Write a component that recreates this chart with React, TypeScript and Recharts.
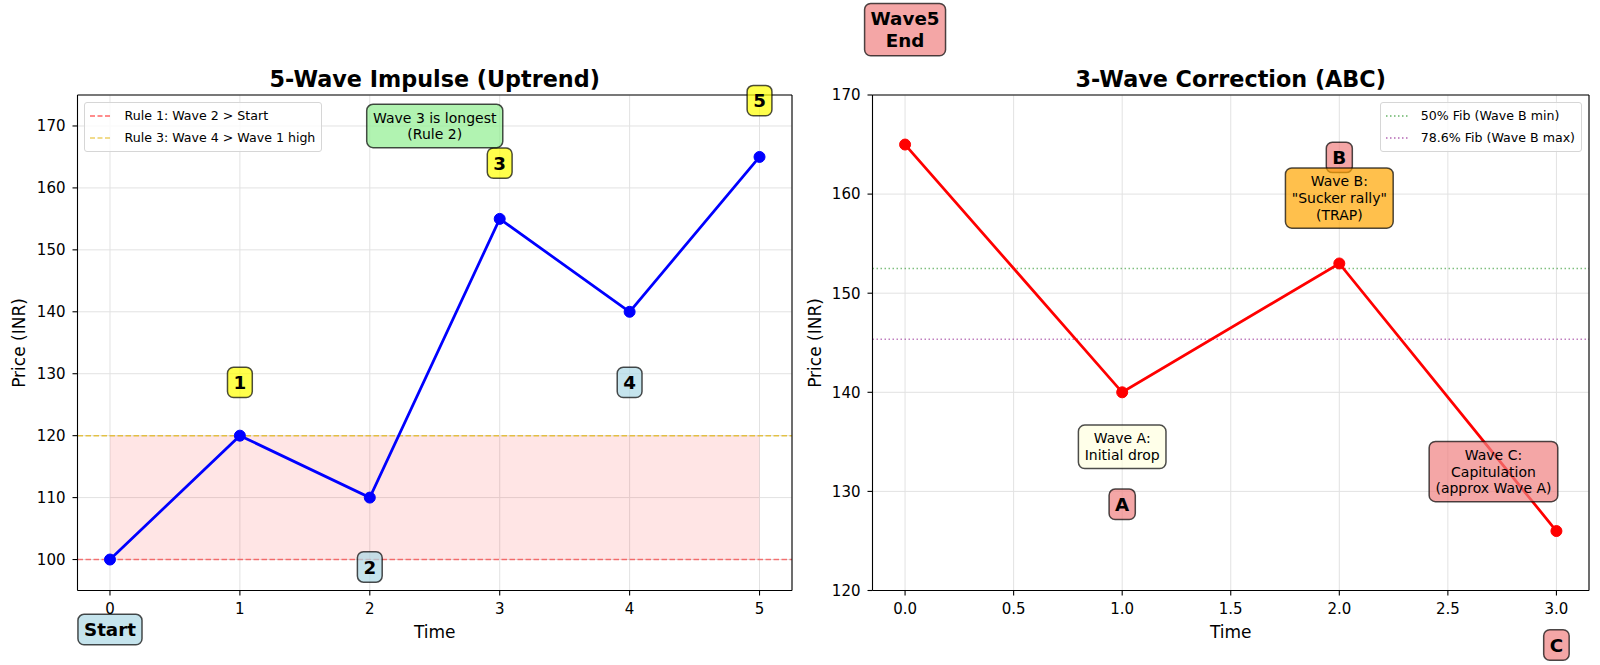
import {
  CartesianGrid,
  Line,
  LineChart,
  ReferenceArea,
  ReferenceDot,
  ReferenceLine,
  XAxis,
  YAxis,
} from "recharts";

const FONT = "'DejaVu Sans', sans-serif";

// price path of the impulse and of the correction
const impulseTime = [0, 1, 2, 3, 4, 5];
const impulsePrice = [100, 120, 110, 155, 140, 165];
const correctionTime = [0, 1, 2, 3];
const correctionPrice = [165, 140, 153, 126];

// axis ticks
const impulseXTicks = [0, 1, 2, 3, 4, 5];
const impulseYTicks = [100, 110, 120, 130, 140, 150, 160, 170];
const correctionXTicks = [0, 0.5, 1, 1.5, 2, 2.5, 3];
const correctionYTicks = [120, 130, 140, 150, 160, 170];

// rule / fib levels
const startLevel = 100;
const wave1High = 120;
const fib50 = 152.5;
const fib786 = 145.35;

const impulseLegend = ["Rule 1: Wave 2 > Start", "Rule 3: Wave 4 > Wave 1 high"];
const correctionLegend = ["50% Fib (Wave B min)", "78.6% Fib (Wave B max)"];

// wave labels (data coords of the box centre)
const impulseTags = [
  { text: "Start", x: 0, y: 88.7, tone: "blue" },
  { text: "1", x: 1, y: 128.6, tone: "yellow" },
  { text: "2", x: 2, y: 98.8, tone: "blue" },
  { text: "3", x: 3, y: 164, tone: "yellow" },
  { text: "4", x: 4, y: 128.6, tone: "blue" },
  { text: "5", x: 5, y: 174.1, tone: "yellow" },
];
const impulseNotes = [{ text: "Wave 3 is longest\n(Rule 2)", x: 2.5, y: 170, tone: "green" }];

const correctionTags = [
  { text: "Wave5\nEnd", x: 0, y: 176.6, tone: "coral" },
  { text: "A", x: 1, y: 128.7, tone: "coral" },
  { text: "B", x: 2, y: 163.7, tone: "coral" },
  { text: "C", x: 3, y: 114.5, tone: "coral" },
];
const correctionNotes = [
  { text: "Wave A:\nInitial drop", x: 1, y: 134.5, tone: "cream" },
  { text: 'Wave B:\n"Sucker rally"\n(TRAP)', x: 2, y: 159.6, tone: "orange" },
  { text: "Wave C:\nCapitulation\n(approx Wave A)", x: 2.71, y: 132, tone: "coral" },
];

const tones: Record<string, string> = {
  yellow: "#ffff00",
  blue: "#add8e6",
  coral: "#f08080",
  green: "#90ee90",
  cream: "#ffffe0",
  orange: "#ffa500",
};

let ctx: CanvasRenderingContext2D | null = null;
function textWidth(text: string, font: string) {
  if (!ctx) ctx = document.createElement("canvas").getContext("2d");
  if (!ctx) return text.length * 8;
  ctx.font = font;
  return ctx.measureText(text).width;
}

function Badge({ cx, cy, text, tone, bold }: any) {
  if (cx == null || cy == null) return null;
  const fs = bold ? 18.3 : 14;
  const pad = (bold ? 0.33 : 0.45) * fs;
  const lines = text.split("\n");
  const font = `${bold ? "bold " : ""}${fs}px 'DejaVu Sans'`;
  const w = Math.max(...lines.map((l: string) => textWidth(l, font))) + 2 * pad;
  const lh = fs * 1.2;
  const h = fs + lh * (lines.length - 1) + 2 * pad;
  const top = cy - ((lines.length - 1) * lh) / 2;
  return (
    <g>
      <rect
        x={cx - w / 2}
        y={cy - h / 2}
        width={w}
        height={h}
        rx={pad}
        fill={tones[tone]}
        fillOpacity={0.7}
        stroke="#000"
        strokeOpacity={0.7}
        strokeWidth={1.5}
      />
      <text
        textAnchor="middle"
        fontFamily={FONT}
        fontSize={fs}
        fontWeight={bold ? "bold" : "normal"}
        fill="#000"
      >
        {lines.map((l: string, i: number) => (
          <tspan key={i} x={cx} y={top + i * lh + 0.36 * fs}>
            {l}
          </tspan>
        ))}
      </text>
    </g>
  );
}

function LegendBox({ labels, strokes, dash, style }: any) {
  return (
    <div
      style={{
        position: "absolute",
        ...style,
        background: "rgba(255,255,255,0.8)",
        border: "1px solid #d6d6d6",
        borderRadius: 3,
        padding: "2px 6px 2px 5px",
        fontFamily: FONT,
        fontSize: 12.6,
        color: "#000",
        whiteSpace: "nowrap",
      }}
    >
      {labels.map((label: string, i: number) => (
        <div key={label} style={{ display: "flex", alignItems: "center", height: 22 }}>
          <svg width={22} height={6} style={{ marginRight: 13 }}>
            <line
              x1={0}
              y1={3}
              x2={22}
              y2={3}
              stroke={strokes[i]}
              strokeOpacity={0.6}
              strokeWidth={1.5}
              strokeDasharray={dash}
            />
          </svg>
          <span>{label}</span>
        </div>
      ))}
    </div>
  );
}

const tick = { fontSize: 15, fill: "#000", fontFamily: FONT };
const axisLine = { stroke: "#000", strokeWidth: 1.1 };
const ruleRed = "#ff0000";
const ruleGold = "#e0b000";

function ImpulseChart() {
  const data = impulseTime.map((t, i) => ({ t, price: impulsePrice[i] }));
  return (
    <LineChart
      width={800}
      height={665}
      data={data}
      margin={{ top: 95, right: 8, bottom: 44.5, left: 17.5 }}
    >
      <CartesianGrid stroke="#e2e2e2" strokeWidth={1} />
      <XAxis
        dataKey="t"
        type="number"
        domain={[-0.25, 5.25]}
        ticks={impulseXTicks}
        allowDataOverflow
        height={30}
        tick={tick}
        tickSize={5}
        tickMargin={8}
        axisLine={axisLine}
        tickLine={axisLine}
      />
      <YAxis
        type="number"
        domain={[95, 175]}
        ticks={impulseYTicks}
        allowDataOverflow
        width={60}
        tick={tick}
        tickSize={5}
        tickMargin={7}
        axisLine={axisLine}
        tickLine={axisLine}
      />
      <ReferenceArea x1={0} x2={5} y1={startLevel} y2={wave1High} fill="#ff0000" fillOpacity={0.1} stroke="none" />
      <ReferenceLine y={startLevel} stroke={ruleRed} strokeOpacity={0.5} strokeWidth={1.5} strokeDasharray="5.5 2.5" />
      <ReferenceLine y={wave1High} stroke={ruleGold} strokeOpacity={0.7} strokeWidth={1.5} strokeDasharray="5.5 2.5" />
      <ReferenceLine y={175} stroke="#000" strokeWidth={1.1} />
      <ReferenceLine x={5.25} stroke="#000" strokeWidth={1.1} />
      <Line
        type="linear"
        dataKey="price"
        stroke="#0000ff"
        strokeWidth={2.75}
        dot={{ r: 5.5, fill: "#0000ff", stroke: "#0000ff", strokeWidth: 1 }}
        activeDot={false}
        isAnimationActive={false}
      />
      {impulseTags.map((tag) => (
        <ReferenceDot
          key={tag.text}
          x={tag.x}
          y={tag.y}
          r={0}
          ifOverflow="visible"
          shape={(p: any) => <Badge cx={p.cx} cy={p.cy} text={tag.text} tone={tag.tone} bold />}
        />
      ))}
      {impulseNotes.map((note) => (
        <ReferenceDot
          key={note.text}
          x={note.x}
          y={note.y}
          r={0}
          ifOverflow="visible"
          shape={(p: any) => <Badge cx={p.cx} cy={p.cy} text={note.text} tone={note.tone} />}
        />
      ))}
    </LineChart>
  );
}

function CorrectionChart() {
  const data = correctionTime.map((t, i) => ({ t, price: correctionPrice[i] }));
  return (
    <LineChart
      width={800}
      height={665}
      data={data}
      margin={{ top: 95, right: 11, bottom: 44.5, left: 12.5 }}
    >
      <CartesianGrid stroke="#e2e2e2" strokeWidth={1} />
      <XAxis
        dataKey="t"
        type="number"
        domain={[-0.15, 3.15]}
        ticks={correctionXTicks}
        tickFormatter={(v: number) => v.toFixed(1)}
        allowDataOverflow
        height={30}
        tick={tick}
        tickSize={5}
        tickMargin={8}
        axisLine={axisLine}
        tickLine={axisLine}
      />
      <YAxis
        type="number"
        domain={[120, 170]}
        ticks={correctionYTicks}
        allowDataOverflow
        width={60}
        tick={tick}
        tickSize={5}
        tickMargin={7}
        axisLine={axisLine}
        tickLine={axisLine}
      />
      <ReferenceLine y={fib50} stroke="#008000" strokeOpacity={0.5} strokeWidth={1.5} strokeDasharray="1.5 2.5" />
      <ReferenceLine y={fib786} stroke="#800080" strokeOpacity={0.5} strokeWidth={1.5} strokeDasharray="1.5 2.5" />
      <ReferenceLine y={170} stroke="#000" strokeWidth={1.1} />
      <ReferenceLine x={3.15} stroke="#000" strokeWidth={1.1} />
      <Line
        type="linear"
        dataKey="price"
        stroke="#ff0000"
        strokeWidth={2.75}
        dot={{ r: 5.5, fill: "#ff0000", stroke: "#ff0000", strokeWidth: 1 }}
        activeDot={false}
        isAnimationActive={false}
      />
      {correctionTags.map((tag) => (
        <ReferenceDot
          key={tag.text}
          x={tag.x}
          y={tag.y}
          r={0}
          ifOverflow="visible"
          shape={(p: any) => <Badge cx={p.cx} cy={p.cy} text={tag.text} tone={tag.tone} bold />}
        />
      ))}
      {correctionNotes.map((note) => (
        <ReferenceDot
          key={note.text}
          x={note.x}
          y={note.y}
          r={0}
          ifOverflow="visible"
          shape={(p: any) => <Badge cx={p.cx} cy={p.cy} text={note.text} tone={note.tone} />}
        />
      ))}
    </LineChart>
  );
}

export default function App() {
  return (
    <div
      style={{
        position: "absolute",
        left: 0,
        top: 0,
        width: 1600,
        height: 665,
        background: "#fff",
        overflow: "hidden",
      }}
    >
      <div style={{ position: "absolute", left: 0, top: 0 }}>
        <ImpulseChart />
      </div>
      <div style={{ position: "absolute", left: 800, top: 0 }}>
        <CorrectionChart />
      </div>

      {/* titles and axis names */}
      <svg
        width={1600}
        height={665}
        style={{ position: "absolute", left: 0, top: 0, pointerEvents: "none" }}
        fontFamily={FONT}
      >
        <text x={434.75} y={87} textAnchor="middle" fontSize={22.3} fontWeight="bold">
          5-Wave Impulse (Uptrend)
        </text>
        <text x={1230.75} y={87} textAnchor="middle" fontSize={22.3} fontWeight="bold">
          3-Wave Correction (ABC)
        </text>
        <text x={434.75} y={638} textAnchor="middle" fontSize={17}>
          Time
        </text>
        <text x={1230.75} y={638} textAnchor="middle" fontSize={17}>
          Time
        </text>
        <text x={24.5} y={343} textAnchor="middle" fontSize={17} transform="rotate(-90 24.5 343)">
          Price (INR)
        </text>
        <text x={821} y={343} textAnchor="middle" fontSize={17} transform="rotate(-90 821 343)">
          Price (INR)
        </text>
      </svg>

      <LegendBox
        labels={impulseLegend}
        strokes={[ruleRed, ruleGold]}
        dash="5 2.5"
        style={{ left: 83.5, top: 101.5 }}
      />
      <LegendBox
        labels={correctionLegend}
        strokes={["#008000", "#800080"]}
        dash="1.5 2.5"
        style={{ right: 18, top: 101.5 }}
      />
    </div>
  );
}
